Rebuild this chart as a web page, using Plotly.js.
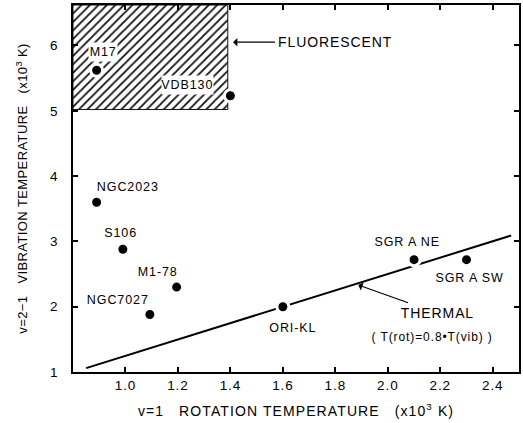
<!DOCTYPE html>
<html>
<head>
<meta charset="utf-8">
<script src="https://cdn.plot.ly/plotly-3.0.1.min.js"></script>
<style>
html,body{margin:0;padding:0;background:#fff;}
#plot text{letter-spacing:0.9px;}
#plot .xtitle{letter-spacing:1.1px;}
#plot .ytitle{letter-spacing:0.4px;}
</style>
</head>
<body>
<div id="plot" style="width:523px;height:423px;"></div>
<script>
// Data
const names = ["M17","VDB130","NGC2023","S106","M1-78","NGC7027","ORI-KL","SGR A NE","SGR A SW"];
const rotTemp = [0.89, 1.40, 0.89, 0.99, 1.195, 1.093, 1.60, 2.10, 2.30];
const vibTemp = [5.62, 5.23, 3.60, 2.88, 2.30, 1.88, 2.00, 2.72, 2.72];
// label offsets (px) relative to each point
const labelDx = [6, -43, 31, -2, -19, -32, 10, -7, 3];
const labelDy = [18, 11, 15, 16, 15, 15, -21, 18, -18];

// Thermal line T(rot)=0.8*T(vib), endpoints as drawn
const thermX = [0.85, 2.47];
const thermY = [1.06, 3.09];

// Fluorescent hatched region
const fluorX = [0.8, 1.39, 1.39, 0.8, 0.8];
const fluorY = [5.02, 5.02, 6.62, 6.62, 5.02];

const xTicks = [1.0, 1.2, 1.4, 1.6, 1.8, 2.0, 2.2, 2.4];
const xTickText = ["1.0","1.2","1.4","1.6","1.8","2.0","2.2","2.4"];
const yTicks = [1, 2, 3, 4, 5, 6];

const FONT = "Liberation Sans, Arial, sans-serif";

const traces = [
  {
    x: fluorX, y: fluorY, type: "scatter", mode: "lines",
    fill: "toself", fillcolor: "rgba(0,0,0,0)",
    fillpattern: {shape: "/", size: 6, solidity: 0.3, fgcolor: "#111", bgcolor: "#fff"},
    line: {color: "#111", width: 1}, hoverinfo: "skip", showlegend: false
  },
  {
    x: thermX, y: thermY, type: "scatter", mode: "lines",
    line: {color: "#000", width: 2}, showlegend: false
  },
  {
    x: rotTemp, y: vibTemp, type: "scatter", mode: "markers",
    marker: {color: "#000", size: 12, line: {color: "#fff", width: 3}},
    showlegend: false
  }
];

const annotations = names.map((n, i) => ({
  x: rotTemp[i], y: vibTemp[i], xref: "x", yref: "y",
  text: n, showarrow: false, xshift: labelDx[i], yshift: labelDy[i],
  font: {family: FONT, size: 12.5, color: "#000"},
  bgcolor: (i < 2) ? "#fff" : "rgba(0,0,0,0)", borderpad: 2
}));

annotations.push(
  {x: 1.41, y: 6.05, ax: 1.57, ay: 6.05, xref: "x", yref: "y", axref: "x", ayref: "y",
   text: "FLUORESCENT", xanchor: "left", borderpad: 7,
   showarrow: true, arrowhead: 1, arrowsize: 1.2, arrowwidth: 1.2, arrowcolor: "#000",
   font: {family: FONT, size: 14, color: "#000"}},
  {x: 1.887, y: 2.332, ax: 2.19, ay: 1.90, xref: "x", yref: "y", axref: "x", ayref: "y",
   text: "THERMAL", borderpad: 2,
   showarrow: true, arrowhead: 1, arrowsize: 1.2, arrowwidth: 1.2, arrowcolor: "#000",
   font: {family: FONT, size: 14, color: "#000"}},
  {x: 2.168, y: 1.54, xref: "x", yref: "y", text: "( T(rot)=0.8•T(vib) )", showarrow: false,
   font: {family: FONT, size: 12, color: "#000"}}
);

const layout = {
  width: 523, height: 423,
  margin: {l: 73, r: 4, t: 5, b: 51},
  paper_bgcolor: "#fff", plot_bgcolor: "#fff",
  showlegend: false,
  font: {family: FONT, color: "#000"},
  xaxis: {
    range: [0.8, 2.5], tickvals: xTicks, ticktext: xTickText,
    ticks: "inside", ticklen: 5, tickwidth: 2, tickcolor: "#000",
    showline: true, linewidth: 2, linecolor: "#000", mirror: "ticks",
    showgrid: false, zeroline: false,
    tickfont: {family: FONT, size: 13.5, color: "#000"},
    title: {text: "v=1   ROTATION TEMPERATURE   (x10<sup>3</sup> K)", standoff: 14,
            font: {family: FONT, size: 14, color: "#000"}}
  },
  yaxis: {
    range: [1, 6.62], tickvals: yTicks,
    ticks: "inside", ticklen: 5, tickwidth: 2, tickcolor: "#000",
    showline: true, linewidth: 2, linecolor: "#000", mirror: "ticks",
    showgrid: false, zeroline: false, ticklabelstandoff: 10,
    tickfont: {family: FONT, size: 13.5, color: "#000"},
    title: {text: "v=2−1   VIBRATION TEMPERATURE   (x10<sup>3</sup> K)", standoff: 20,
            font: {family: FONT, size: 13, color: "#000"}}
  },
  annotations: annotations
};

Plotly.newPlot("plot", traces, layout, {displayModeBar: false, staticPlot: true});
</script>
</body>
</html>
